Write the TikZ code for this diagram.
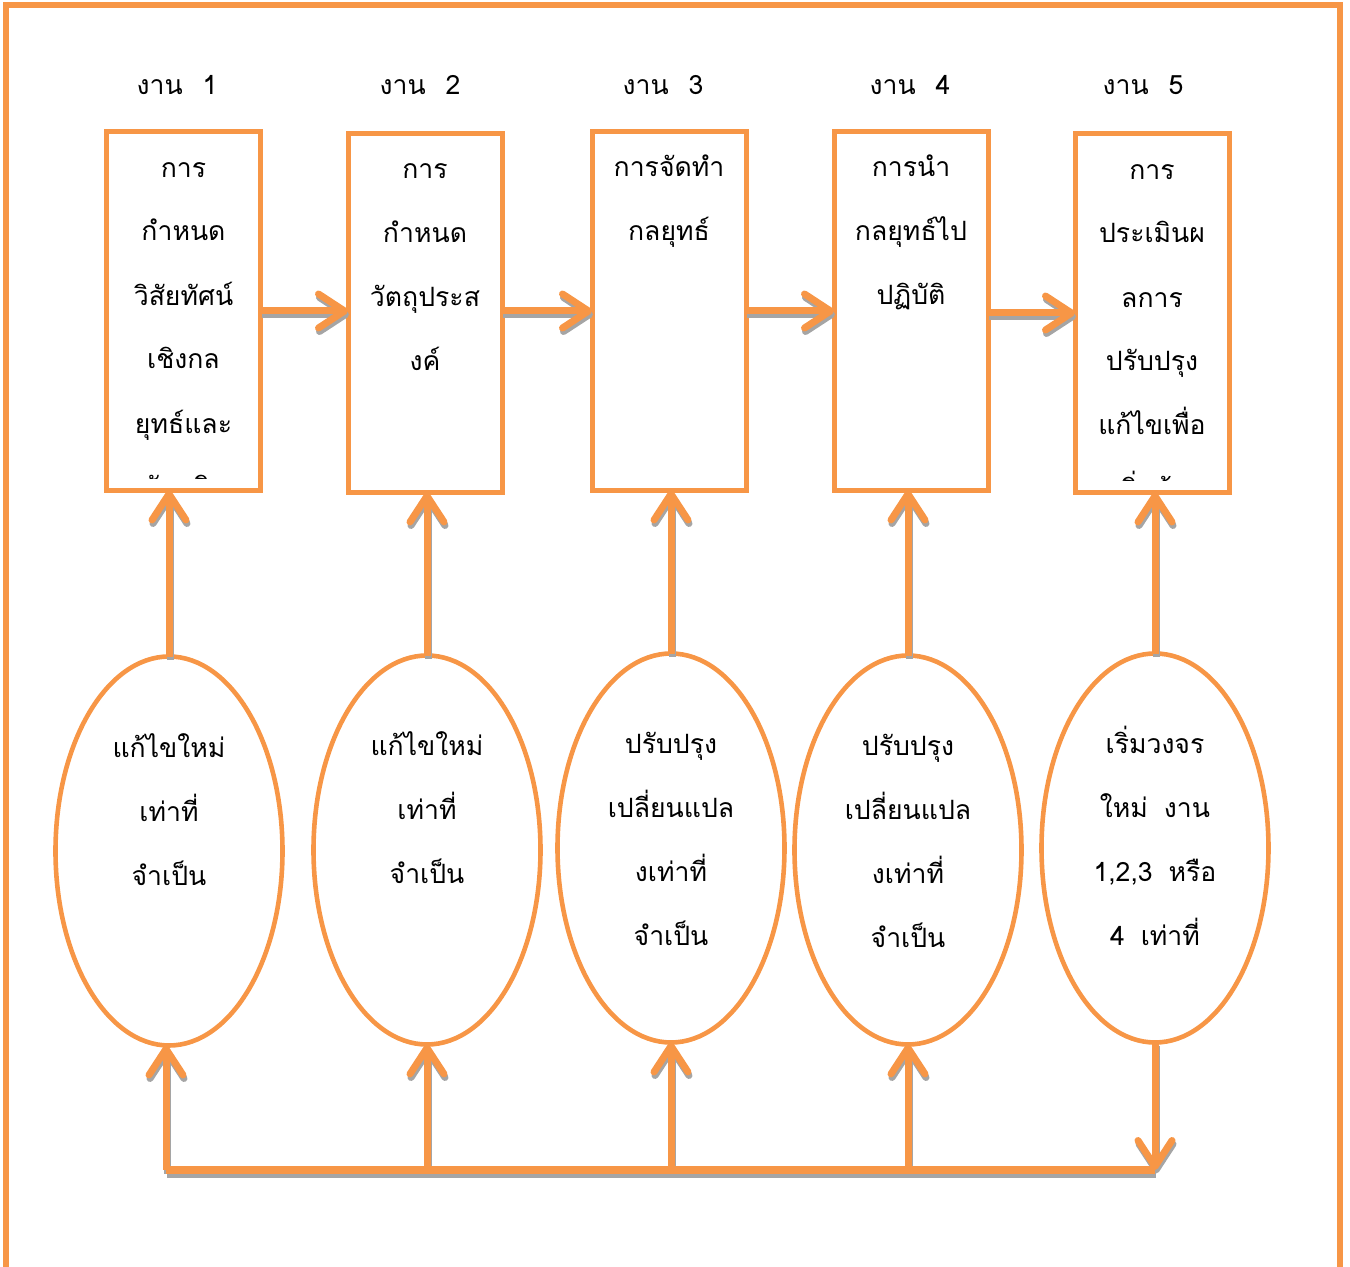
\documentclass[tikz,border=0pt]{standalone}
\usepackage{fontspec}
\newfontfamily\thaifont[Script=Thai]{Loma}
\usetikzlibrary{arrows.meta,shapes.geometric}
\definecolor{orn}{HTML}{F79646}
\definecolor{shd}{HTML}{A5A5A5}
\begin{document}
\begin{tikzpicture}[x=0.5pt,y=-0.5pt,
  box/.style={draw=orn,line width=2.5pt,minimum width=77pt,minimum height=179.5pt,inner sep=0pt,outer sep=0pt},
  oval/.style={ellipse,draw=orn,line width=2.3pt,minimum width=113.5pt,minimum height=194.5pt,inner sep=0pt,outer sep=0pt},
  txt/.style={font=\thaifont\fontsize{13.3}{32}\selectfont,align=center,inner sep=0pt,anchor=base},
  conn/.style={draw=orn,line width=3.5pt,-{Straight Barb[length=13pt,width=17pt,round]}},
  connshadow/.style={draw=shd,line width=3.5pt,-{Straight Barb[length=13pt,width=17pt,round]},transform canvas={xshift=0.5pt,yshift=-1.75pt}},
  plainline/.style={draw=orn,line width=4pt},
  plainshadow/.style={draw=shd,line width=4pt,transform canvas={xshift=0.5pt,yshift=-1.75pt}},
  frame/.style={draw=orn,line width=3pt}
]
\useasboundingbox (0,0) rectangle (1350,1267);
\draw[frame] (5.5,1267) -- (5.5,5) -- (1340,5) -- (1340,1267);

% labels
\node[txt] (l1) at (177,95) {งาน\hspace{0.75em}1};
\node[txt] (l2) at (420,95) {งาน\hspace{0.75em}2};
\node[txt] (l3) at (663,95) {งาน\hspace{0.75em}3};
\node[txt] (l4) at (910,95) {งาน\hspace{0.75em}4};
\node[txt] (l5) at (1143,95) {งาน\hspace{0.75em}5};

% boxes
\node[box] (b1) at (183.5,311) {};
\node[box] (b2) at (425,313) {};
\node[box] (b3) at (669,311) {};
\node[box] (b4) at (911,311) {};
\node[box] (b5) at (1152,313) {};

% box texts (anchor = baseline of last line)
\begin{scope}
\clip (108,134) rectangle (259,479);
\node[txt] (t1) at (183.5,497) {การ\\กำหนด\\วิสัยทัศน์\\เชิงกล\\ยุทธ์และ\\พันธกิจ};
\end{scope}
\node[txt] (t2) at (425,371) {การ\\กำหนด\\วัตถุประส\\งค์};
\node[txt] (t3) at (669,241) {การจัดทำ\\กลยุทธ์};
\node[txt] (t4) at (911,305) {การนำ\\กลยุทธ์ไป\\ปฏิบัติ};
\begin{scope}
\clip (1076,136) rectangle (1228,481);
\node[txt] (t5) at (1152,499) {การ\\ประเมินผ\\ลการ\\ปรับปรุง\\แก้ไขเพื่อ\\เริ่มต้น};
\end{scope}

% ellipses
\node[oval] (e1) at (169,851) {};
\node[oval] (e2) at (427,850) {};
\node[oval] (e3) at (671,848) {};
\node[oval] (e4) at (908,850) {};
\node[oval] (e5) at (1155,848) {};

\node[txt] (s1) at (169,885) {แก้ไขใหม่\\เท่าที่\\จำเป็น};
\node[txt] (s2) at (427,883) {แก้ไขใหม่\\เท่าที่\\จำเป็น};
\node[txt] (s3) at (671,945) {ปรับปรุง\\เปลี่ยนแปล\\งเท่าที่\\จำเป็น};
\node[txt] (s4) at (908,947) {ปรับปรุง\\เปลี่ยนแปล\\งเท่าที่\\จำเป็น};
\node[txt] (s5) at (1155,945) {เริ่มวงจร\\ใหม่\hspace{0.6em}งาน\\1,2,3\hspace{0.6em}หรือ\\4\hspace{0.6em}เท่าที่};

\coordinate (bl) at (166,1170);

% shadows
\draw[connshadow] (b1.east) -- (b1.east -| b2.west);
\draw[connshadow] (b2.east |- b1.east) -- (b1.east -| b3.west);
\draw[connshadow] (b3.east) -- (b4.west);
\draw[connshadow] (b4.east |- b5.west) -- (b5.west);
\draw[connshadow] (e1.north) -- (e1.north |- b1.south);
\draw[connshadow] (e2.north) -- (e2.north |- b2.south);
\draw[connshadow] (e3.north) -- (e3.north |- b3.south);
\draw[connshadow] (e4.north) -- (e4.north |- b4.south);
\draw[connshadow] (e5.north) -- (e5.north |- b5.south);
\draw[plainshadow] (bl) -- (bl -| e5.south);
\draw[connshadow] (bl) -- (bl |- e1.south);
\draw[connshadow] (e2.south |- bl) -- (e2.south);
\draw[connshadow] (e3.south |- bl) -- (e3.south);
\draw[connshadow] (e4.south |- bl) -- (e4.south);
\draw[connshadow] (e5.south) -- (e5.south |- bl);

% connectors
\draw[conn] (b1.east) -- (b1.east -| b2.west);
\draw[conn] (b2.east |- b1.east) -- (b1.east -| b3.west);
\draw[conn] (b3.east) -- (b4.west);
\draw[conn] (b4.east |- b5.west) -- (b5.west);
\draw[conn] (e1.north) -- (e1.north |- b1.south);
\draw[conn] (e2.north) -- (e2.north |- b2.south);
\draw[conn] (e3.north) -- (e3.north |- b3.south);
\draw[conn] (e4.north) -- (e4.north |- b4.south);
\draw[conn] (e5.north) -- (e5.north |- b5.south);
\draw[plainline] (bl) -- (bl -| e5.south);
\draw[conn] (bl) -- (bl |- e1.south);
\draw[conn] (e2.south |- bl) -- (e2.south);
\draw[conn] (e3.south |- bl) -- (e3.south);
\draw[conn] (e4.south |- bl) -- (e4.south);
\draw[conn] (e5.south) -- (e5.south |- bl);
\end{tikzpicture}
\end{document}
